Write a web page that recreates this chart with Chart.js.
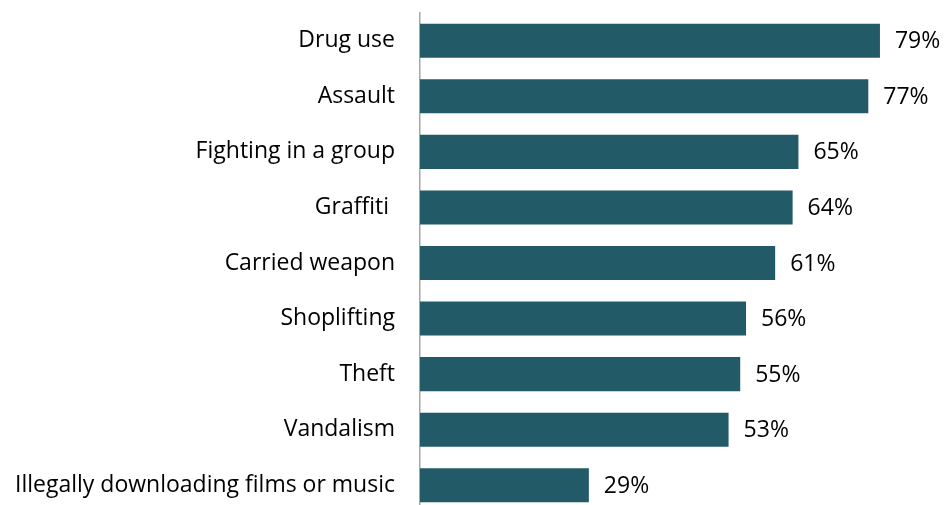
<!DOCTYPE html>
<html>
<head>
<meta charset="utf-8">
<script src="https://cdn.jsdelivr.net/npm/chart.js@4/dist/chart.umd.min.js"></script>
<style>
  html, body { margin: 0; padding: 0; background: #fff; overflow: hidden; }
  .wrap { width: 944px; height: 513px; position: relative; }
</style>
</head>
<body>
<div class="wrap"><canvas class="js-chart"></canvas></div>
<script>
const ctx = document.querySelector(".js-chart").getContext("2d");

const categories = [
  "Drug use",
  "Assault",
  "Fighting in a group",
  "Graffiti ",
  "Carried weapon",
  "Shoplifting",
  "Theft",
  "Vandalism",
  "Illegally downloading films or music",
];
const values = [79, 77, 65, 64, 61, 56, 55, 53, 29];
const labels = values.map((v) => v + "%");

const FONT = "'Open Sans', Lato, sans-serif";
const FONT_SIZE = 23;

// draws the "79%" style labels just past the end of each bar
const valueLabels = {
  id: "valueLabels",
  afterDatasetsDraw(chart) {
    const { ctx, scales } = chart;
    ctx.save();
    ctx.font = FONT_SIZE + "px " + FONT;
    ctx.fillStyle = "#000";
    ctx.textAlign = "left";
    ctx.textBaseline = "middle";
    values.forEach((v, i) => {
      const x = scales.x.getPixelForValue(v) + 15;
      const y = scales.y.getPixelForValue(i);
      ctx.fillText(labels[i], x, y + 1);
    });
    ctx.restore();
  },
};

new Chart(ctx, {
  type: "bar",
  data: {
    labels: categories,
    datasets: [
      {
        data: values,
        backgroundColor: "#235a67",
        borderWidth: 0,
        barPercentage: 0.613,
        categoryPercentage: 1,
      },
    ],
  },
  options: {
    indexAxis: "y",
    responsive: true,
    maintainAspectRatio: false,
    animation: false,
    layout: { padding: { top: 13, right: 0, bottom: 0, left: 0 } },
    plugins: {
      legend: { display: false },
      tooltip: { enabled: false },
    },
    scales: {
      x: {
        display: false,
        min: 0,
        max: 90,
      },
      y: {
        grid: { display: false, drawTicks: false },
        border: { display: true, color: "#a6a6a6", width: 1.5 },
        ticks: {
          color: "#000",
          padding: 25,
          font: { family: FONT, size: FONT_SIZE },
        },
        afterFit(scale) {
          scale.width = 420;
          scale.paddingTop = 0;
          scale.paddingBottom = 0;
        },
      },
    },
  },
  plugins: [valueLabels],
});
</script>
</body>
</html>
